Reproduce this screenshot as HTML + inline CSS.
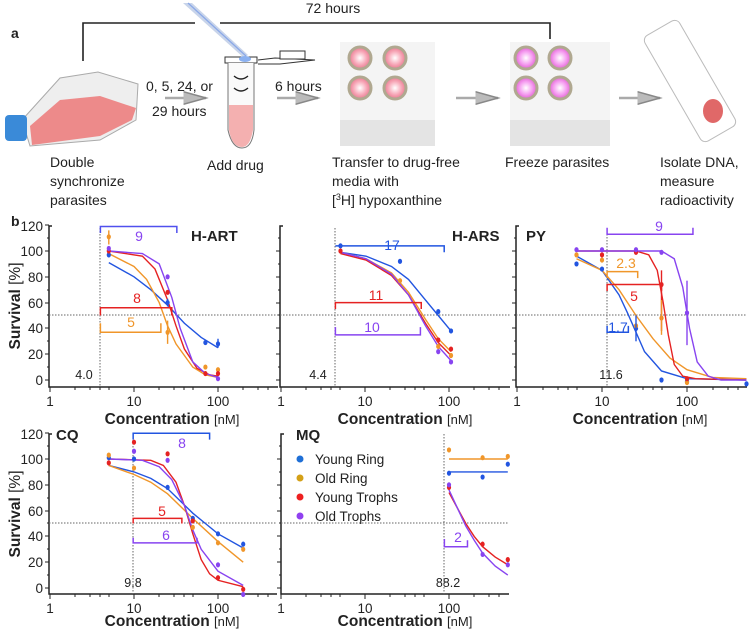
<!DOCTYPE html>
<html><head><meta charset="utf-8"><style>
body{margin:0;background:#fff;width:750px;height:630px;overflow:hidden}
svg{display:block;font-family:"Liberation Sans",sans-serif}
.c{fill:none;stroke-width:1.4;vector-effect:non-scaling-stroke}
.ax{stroke:#222;stroke-width:1.6;fill:none}
.dt{stroke:#666;stroke-width:1;stroke-dasharray:1.5 1.5;vector-effect:non-scaling-stroke}
.br{fill:none;stroke-width:1.5;vector-effect:non-scaling-stroke}
.tl{font-size:14px;fill:#222}
.bl{font-size:14px;font-weight:bold;fill:#222}
</style></head><body>
<svg width="750" height="630" viewBox="0 0 750 630">
<defs>
<marker id="ah" markerWidth="10" markerHeight="8" refX="9" refY="4" orient="auto"><path d="M0,1.5 L9,4 L0,6.5" fill="#bbb" stroke="#888" stroke-width="0.6"/></marker>
<radialGradient id="pk"><stop offset="0" stop-color="#fff"/><stop offset="0.6" stop-color="#f7a8b8"/><stop offset="1" stop-color="#e87890"/></radialGradient>
<radialGradient id="mg"><stop offset="0" stop-color="#fff"/><stop offset="0.6" stop-color="#f59cf0"/><stop offset="1" stop-color="#e060d0"/></radialGradient>
</defs>
<!-- panel a -->
<text x="11" y="38" class="bl" font-size="15">a</text>
<polyline points="83,61 83,23 195,23" class="ax" stroke-width="1.5"/>
<polyline points="220,23 550,23 550,39" class="ax" stroke-width="1.5"/>
<text x="333" y="13" class="tl" text-anchor="middle" font-size="15">72 hours</text>
<!-- flask -->
<polygon points="22,120 60,78 98,72 138,84 136,120 100,140 30,146" fill="#eee" stroke="#aaa"/>
<polygon points="30,126 60,100 100,96 136,108 132,120 100,136 32,145" fill="#ec7878" opacity="0.85"/>
<rect x="5" y="115" width="22" height="26" rx="4" fill="#3a8ad8"/>
<!-- pipette -->
<polygon points="183,3 192,3 248,55 244,58" fill="#c8d4ea"/>
<line x1="188" y1="3" x2="246" y2="56" stroke="#8aa8e8" stroke-width="1.2"/>
<!-- tube -->
<rect x="225" y="57" width="32" height="6" fill="#fff" stroke="#333"/>
<ellipse cx="245" cy="59" rx="6" ry="3" fill="#8ab0f0"/>
<path d="M258,60 L275,58 L315,60 L280,64 L258,64" fill="#fff" stroke="#333"/>
<rect x="280" y="51" width="25" height="8" fill="#fff" stroke="#333"/>
<path d="M228,63 L228,130 Q232,148 242,148 Q252,148 254,130 L254,63" fill="#fafafa" stroke="#777"/>
<path d="M229,105 L253,105 L253,130 Q250,147 242,147 Q232,147 229,130Z" fill="#f4b0b0"/>
<path d="M234,76 Q241,82 248,76 M234,88 Q241,94 248,88" stroke="#222" fill="none" stroke-width="1.4"/>
<!-- plates -->
<g>
<rect x="340" y="42" width="95" height="104" fill="#f4f4f4"/>
<rect x="340" y="120" width="95" height="26" fill="#e4e4e4"/>
<circle cx="360" cy="58" r="11" fill="url(#pk)" stroke="#b0a890" stroke-width="3"/>
<circle cx="395" cy="58" r="11" fill="url(#pk)" stroke="#b0a890" stroke-width="3"/>
<circle cx="360" cy="88" r="11" fill="url(#pk)" stroke="#b0a890" stroke-width="3"/>
<circle cx="395" cy="88" r="11" fill="url(#pk)" stroke="#b0a890" stroke-width="3"/>
</g>
<g>
<rect x="510" y="42" width="100" height="104" fill="#f4f4f4"/>
<rect x="510" y="120" width="100" height="26" fill="#e4e4e4"/>
<circle cx="526" cy="58" r="11" fill="url(#mg)" stroke="#b0a890" stroke-width="3"/>
<circle cx="560" cy="58" r="11" fill="url(#mg)" stroke="#b0a890" stroke-width="3"/>
<circle cx="526" cy="88" r="11" fill="url(#mg)" stroke="#b0a890" stroke-width="3"/>
<circle cx="560" cy="88" r="11" fill="url(#mg)" stroke="#b0a890" stroke-width="3"/>
</g>
<rect x="670" y="20" width="40" height="122" rx="6" transform="rotate(-30 690 81)" fill="#fff" stroke="#bbb"/>
<ellipse cx="713" cy="111" rx="10" ry="12" fill="#e06868"/>
<!-- arrows -->
<line x1="165" y1="98" x2="206" y2="98" stroke="#aaa" stroke-width="2.5" marker-end="url(#ah)"/>
<line x1="277" y1="98" x2="318" y2="98" stroke="#aaa" stroke-width="2.5" marker-end="url(#ah)"/>
<line x1="456" y1="98" x2="498" y2="98" stroke="#aaa" stroke-width="2.5" marker-end="url(#ah)"/>
<line x1="619" y1="98" x2="660" y2="98" stroke="#aaa" stroke-width="2.5" marker-end="url(#ah)"/>
<g class="tl" font-size="14.5">
<text x="50" y="167">Double</text><text x="50" y="186">synchronize</text><text x="50" y="205">parasites</text>
<text x="146" y="91">0, 5, 24, or</text><text x="152" y="116">29 hours</text>
<text x="207" y="170">Add drug</text>
<text x="275" y="91">6 hours</text>
<text x="332" y="167">Transfer to drug-free</text><text x="332" y="186">media with</text><text x="332" y="205">[<tspan font-size="9" dy="-5">3</tspan><tspan dy="5">H] hypoxanthine</tspan></text>
<text x="505" y="167">Freeze parasites</text>
<text x="660" y="167">Isolate DNA,</text><text x="660" y="186">measure</text><text x="660" y="205">radioactivity</text>
</g>
<text x="11" y="226" class="bl" font-size="15">b</text>

<g class="tl" font-size="13">
<g stroke="#222" stroke-width="1.5" fill="none">
<path d="M52,226 H49 V387 H278"/>
<path d="M283,226 H280 V387 H510"/>
<path d="M519,226 H516 V387 H747"/>
<path d="M52,434 H49 V594 H277"/>
<path d="M284,434 H281 V594 H509"/>
</g>
<g stroke="#222" stroke-width="1">
<path d="M45,380h4M45,354h4M45,328h4M45,303h4M45,277h4M45,251h4M45,225h4M47,367h2M47,341h2M47,315h2M47,290h2M47,264h2M47,238h2"/>
<path d="M276,380h4M276,354h4M276,328h4M276,303h4M276,277h4M276,251h4M278,367h2M278,341h2M278,315h2M278,290h2M278,264h2M278,238h2"/>
<path d="M512,380h4M512,354h4M512,328h4M512,303h4M512,277h4M512,251h4M514,367h2M514,341h2M514,315h2M514,290h2M514,264h2M514,238h2"/>
<path d="M45,588h4M45,562h4M45,536h4M45,511h4M45,485h4M45,459h4M45,433h4M47,575h2M47,549h2M47,523h2M47,498h2M47,472h2M47,446h2"/>
<path d="M277,588h4M277,562h4M277,536h4M277,511h4M277,485h4M277,459h4M279,575h2M279,549h2M279,523h2M279,498h2M279,472h2M279,446h2"/>
<path d="M50,387v5M134,387v5M218,387v5M75,387v3M90,387v3M100,387v3M109,387v3M159,387v3M174,387v3M184,387v3M193,387v3M243,387v3M258,387v3M268,387v3"/>
<path d="M281,387v5M365,387v5M449,387v5M306,387v3M321,387v3M331,387v3M340,387v3M390,387v3M405,387v3M415,387v3M424,387v3M474,387v3M489,387v3M499,387v3"/>
<path d="M517,387v5M602,387v5M687,387v5M543,387v3M558,387v3M568,387v3M577,387v3M628,387v3M643,387v3M653,387v3M662,387v3M713,387v3M728,387v3M738,387v3"/>
<path d="M50,594v5M134,594v5M218,594v5M75,594v3M90,594v3M100,594v3M109,594v3M159,594v3M174,594v3M184,594v3M193,594v3M243,594v3M258,594v3M268,594v3"/>
<path d="M281,594v5M365,594v5M449,594v5M306,594v3M321,594v3M331,594v3M340,594v3M390,594v3M405,594v3M415,594v3M424,594v3M474,594v3M489,594v3M499,594v3"/>
</g>
<g text-anchor="end" font-size="13.5">
<text x="43" y="385">0</text><text x="43" y="359">20</text><text x="43" y="333">40</text><text x="43" y="308">60</text><text x="43" y="282">80</text><text x="43" y="256">100</text><text x="43" y="231">120</text>
<text x="43" y="593">0</text><text x="43" y="567">20</text><text x="43" y="541">40</text><text x="43" y="516">60</text><text x="43" y="490">80</text><text x="43" y="464">100</text><text x="43" y="439">120</text>
</g>
<g text-anchor="middle" font-size="13.5">
<text x="50" y="406">1</text><text x="134" y="406">10</text><text x="218" y="406">100</text>
<text x="281" y="406">1</text><text x="365" y="406">10</text><text x="449" y="406">100</text>
<text x="517" y="406">1</text><text x="602" y="406">10</text><text x="687" y="406">100</text>
<text x="50" y="613">1</text><text x="134" y="613">10</text><text x="218" y="613">100</text>
<text x="281" y="613">1</text><text x="365" y="613">10</text><text x="449" y="613">100</text>
</g>
<g font-size="15.5" text-anchor="middle">
<text x="172" y="424"><tspan font-weight="bold">Concentration</tspan> <tspan font-size="13">[nM]</tspan></text>
<text x="405" y="424"><tspan font-weight="bold">Concentration</tspan> <tspan font-size="13">[nM]</tspan></text>
<text x="640" y="424"><tspan font-weight="bold">Concentration</tspan> <tspan font-size="13">[nM]</tspan></text>
<text x="172" y="626"><tspan font-weight="bold">Concentration</tspan> <tspan font-size="13">[nM]</tspan></text>
<text x="405" y="626"><tspan font-weight="bold">Concentration</tspan> <tspan font-size="13">[nM]</tspan></text>
</g>
<text transform="translate(20,306) rotate(-90)" text-anchor="middle" font-size="15.5"><tspan font-weight="bold">Survival</tspan> [%]</text>
<text transform="translate(20,514) rotate(-90)" text-anchor="middle" font-size="15.5"><tspan font-weight="bold">Survival</tspan> [%]</text>
<g font-size="15" font-weight="bold">
<text x="191" y="241">H-ART</text><text x="452" y="241">H-ARS</text><text x="526" y="241">PY</text>
<text x="56" y="440">CQ</text><text x="296" y="440">MQ</text>
</g>
<g font-size="12.5">
<text x="84" y="379" text-anchor="middle">4.0</text><text x="318" y="379" text-anchor="middle">4.4</text><text x="611" y="379" text-anchor="middle">11.6</text>
<text x="133" y="587" text-anchor="middle">9.8</text><text x="448" y="587" text-anchor="middle">88.2</text>
</g>
</g>
<!-- dotted lines -->
<g>
<line x1="49" y1="315" x2="278" y2="315" class="dt"/><line x1="280" y1="315" x2="510" y2="315" class="dt"/><line x1="516" y1="315" x2="747" y2="315" class="dt"/>
<line x1="49" y1="523" x2="277" y2="523" class="dt"/><line x1="281" y1="523" x2="509" y2="523" class="dt"/>
<line x1="100" y1="228" x2="100" y2="387" class="dt"/>
<line x1="335" y1="228" x2="335" y2="387" class="dt"/>
<line x1="607" y1="228" x2="607" y2="387" class="dt"/>
<line x1="133" y1="434" x2="133" y2="594" class="dt"/>
<line x1="444" y1="434" x2="444" y2="594" class="dt"/>
</g>

<!-- Plot1 H-ART -->
<g transform="translate(50,380) scale(84,-1.29)">
<polyline class="c" stroke="#2255e0" points="0.7,91 1,80 1.2,70 1.4,58 1.6,44 1.8,33 2,25"/>
<polyline class="c" stroke="#f0962a" points="0.7,98 1,88 1.15,78 1.3,60 1.4,42 1.5,28 1.7,10 1.85,4 2,2"/>
<polyline class="c" stroke="#e52222" points="0.7,100 1.1,96 1.25,86 1.4,62 1.5,42 1.6,24 1.75,9 1.9,4 2,3"/>
<polyline class="c" stroke="#8844f0" points="0.7,100 1.1,98 1.3,90 1.45,64 1.55,40 1.7,14 1.85,5 2,2"/>
<polyline class="br" stroke="#5050ee" points="0.6,114 0.6,119 1.51,119 1.51,114"/>
<polyline class="br" stroke="#e52222" points="0.6,50 0.6,56 1.45,56 1.45,50"/>
<polyline class="br" stroke="#f0962a" points="0.6,44 0.6,37 1.32,37 1.32,44"/>
<g fill="#2255e0"><ellipse cx="0.7" cy="97" rx="0.025" ry="2"/><ellipse cx="1.4" cy="60" rx="0.025" ry="2"/><ellipse cx="1.85" cy="29" rx="0.025" ry="2"/><ellipse cx="2" cy="28" rx="0.025" ry="2"/></g>
<g fill="#f0962a"><ellipse cx="0.7" cy="111" rx="0.025" ry="2"/><ellipse cx="1.4" cy="37" rx="0.025" ry="2"/><ellipse cx="1.85" cy="10" rx="0.025" ry="2"/><ellipse cx="2" cy="8" rx="0.025" ry="2"/></g>
<g fill="#e52222"><ellipse cx="0.7" cy="100" rx="0.025" ry="2"/><ellipse cx="1.4" cy="68" rx="0.025" ry="2"/><ellipse cx="1.85" cy="5" rx="0.025" ry="2"/><ellipse cx="2" cy="5" rx="0.025" ry="2"/></g>
<g fill="#8844f0"><ellipse cx="0.7" cy="102" rx="0.025" ry="2"/><ellipse cx="1.4" cy="80" rx="0.025" ry="2"/><ellipse cx="2" cy="1" rx="0.025" ry="2"/></g>
<path class="c" stroke="#f0962a" d="M1.4,28V46M0.7,105V116"/>
<path class="c" stroke="#2255e0" d="M2,25V32M1.4,57V63"/>
</g>
<text x="137" y="303" fill="#e52222" font-size="14" text-anchor="middle">8</text>
<text x="139" y="241" fill="#8844f0" font-size="14" text-anchor="middle">9</text>
<text x="131" y="327" fill="#f0962a" font-size="14" text-anchor="middle">5</text>

<!-- Plot2 H-ARS -->
<g transform="translate(281,380) scale(85,-1.29)">
<polyline class="c" stroke="#2255e0" points="0.7,99 1,96 1.3,88 1.5,78 1.7,62 1.85,50 2,38"/>
<polyline class="c" stroke="#f0962a" points="0.7,99 1,94 1.3,83 1.5,68 1.7,47 1.85,32 2,22"/>
<polyline class="c" stroke="#e52222" points="0.7,98 1,93 1.3,81 1.5,66 1.7,44 1.85,29 2,19"/>
<polyline class="c" stroke="#8844f0" points="0.7,99 1,94 1.3,82 1.5,66 1.7,42 1.85,26 2,15"/>
<polyline class="br" stroke="#2255e0" points="0.64,104 1.92,104 1.92,99"/>
<polyline class="br" stroke="#e52222" points="0.64,55 0.64,60 1.65,60 1.65,55"/>
<polyline class="br" stroke="#8844f0" points="0.64,41 0.64,35 1.64,35 1.64,41"/>
<g fill="#2255e0"><ellipse cx="0.7" cy="104" rx="0.025" ry="2"/><ellipse cx="1.4" cy="92" rx="0.025" ry="2"/><ellipse cx="1.85" cy="53" rx="0.025" ry="2"/><ellipse cx="2" cy="38" rx="0.025" ry="2"/></g>
<g fill="#f0962a"><ellipse cx="1.4" cy="77" rx="0.025" ry="2"/><ellipse cx="1.85" cy="26" rx="0.025" ry="2"/><ellipse cx="2" cy="19" rx="0.025" ry="2"/></g>
<g fill="#e52222"><ellipse cx="0.7" cy="100" rx="0.025" ry="2"/><ellipse cx="1.85" cy="31" rx="0.025" ry="2"/><ellipse cx="2" cy="24" rx="0.025" ry="2"/></g>
<g fill="#8844f0"><ellipse cx="1.85" cy="22" rx="0.025" ry="2"/><ellipse cx="2" cy="14" rx="0.025" ry="2"/></g>
</g>
<text x="376" y="300" fill="#e52222" font-size="14" text-anchor="middle">11</text>
<text x="392" y="250" fill="#2255e0" font-size="14" text-anchor="middle">17</text>
<text x="372" y="332" fill="#8844f0" font-size="14" text-anchor="middle">10</text>

<!-- Plot3 PY -->
<g transform="translate(517,380) scale(85,-1.29)">
<polyline class="c" stroke="#2255e0" points="0.7,96 1,85 1.2,66 1.3,52 1.4,37 1.5,22 1.7,7 2,1 2.7,0"/>
<polyline class="c" stroke="#f0962a" points="0.7,94 1,85 1.2,70 1.4,50 1.6,32 1.8,17 2,8 2.3,2 2.7,1"/>
<polyline class="c" stroke="#e52222" points="0.7,100 1.4,100 1.55,97 1.65,85 1.72,60 1.78,35 1.85,12 1.95,3 2.1,1 2.7,0"/>
<polyline class="c" stroke="#8844f0" points="0.7,100 1.7,100 1.85,94 1.95,72 2.03,40 2.12,14 2.25,3 2.4,0 2.7,0"/>
<polyline class="br" stroke="#8844f0" points="1.06,118 1.06,113 2.07,113 2.07,118"/>
<polyline class="br" stroke="#f0962a" points="1.06,79 1.06,84 1.42,84 1.42,79"/>
<polyline class="br" stroke="#e52222" points="1.06,69 1.06,74 1.7,74 1.7,69"/>
<polyline class="br" stroke="#2255e0" points="1.06,42 1.06,37 1.31,37 1.31,42"/>
<g fill="#2255e0"><ellipse cx="0.7" cy="90" rx="0.025" ry="2"/><ellipse cx="1" cy="86" rx="0.025" ry="2"/><ellipse cx="1.4" cy="40" rx="0.025" ry="2"/><ellipse cx="1.7" cy="0" rx="0.025" ry="2"/><ellipse cx="2" cy="-1" rx="0.025" ry="2"/><ellipse cx="2.7" cy="-3" rx="0.025" ry="2"/></g>
<g fill="#f0962a"><ellipse cx="0.7" cy="97" rx="0.025" ry="2"/><ellipse cx="1" cy="93" rx="0.025" ry="2"/><ellipse cx="1.4" cy="42" rx="0.025" ry="2"/><ellipse cx="1.7" cy="48" rx="0.025" ry="2"/><ellipse cx="2" cy="-2" rx="0.025" ry="2"/></g>
<g fill="#e52222"><ellipse cx="1" cy="97" rx="0.025" ry="2"/><ellipse cx="1.4" cy="99" rx="0.025" ry="2"/><ellipse cx="1.7" cy="74" rx="0.025" ry="2"/><ellipse cx="2" cy="1" rx="0.025" ry="2"/></g>
<g fill="#8844f0"><ellipse cx="0.7" cy="101" rx="0.025" ry="2"/><ellipse cx="1" cy="101" rx="0.025" ry="2"/><ellipse cx="1.4" cy="101" rx="0.025" ry="2"/><ellipse cx="1.7" cy="99" rx="0.025" ry="2"/><ellipse cx="2" cy="52" rx="0.025" ry="2"/></g>
<path class="c" stroke="#8844f0" d="M2,27V77"/><path class="c" stroke="#e52222" d="M1.7,38V85"/><path class="c" stroke="#f0962a" d="M1.7,35V62"/><path class="c" stroke="#2255e0" d="M1.4,30V50"/>
</g>
<text x="659" y="231" fill="#8844f0" font-size="14" text-anchor="middle">9</text>
<text x="626" y="268" fill="#f0962a" font-size="14" text-anchor="middle">2.3</text>
<text x="634" y="301" fill="#e52222" font-size="14" text-anchor="middle">5</text>
<text x="618" y="332" fill="#2255e0" font-size="14" text-anchor="middle">1.7</text>

<!-- CQ -->
<g transform="translate(50,588) scale(84,-1.29)">
<polyline class="c" stroke="#2255e0" points="0.7,95 1,90 1.2,85 1.4,77 1.7,58 1.85,50 2,42 2.3,31"/>
<polyline class="c" stroke="#f0962a" points="0.7,95 1,88 1.2,82 1.4,73 1.7,54 1.85,45 2,36 2.3,20"/>
<polyline class="c" stroke="#e52222" points="0.7,100 1.2,99 1.35,95 1.5,82 1.6,64 1.7,42 1.8,22 1.9,11 2,6 2.3,1"/>
<polyline class="c" stroke="#8844f0" points="0.7,100 1.1,99 1.3,94 1.45,84 1.6,64 1.7,45 1.8,30 2,13 2.3,2"/>
<polyline class="br" stroke="#2255e0" points="0.99,115 0.99,120 1.9,120 1.9,115"/>
<polyline class="br" stroke="#e52222" points="0.99,50 0.99,54 1.57,54 1.57,50"/>
<polyline class="br" stroke="#8844f0" points="0.99,39 0.99,35 1.75,35 1.75,39"/>
<g fill="#2255e0"><ellipse cx="0.7" cy="101" rx="0.025" ry="2"/><ellipse cx="1" cy="100" rx="0.025" ry="2"/><ellipse cx="1.4" cy="78" rx="0.025" ry="2"/><ellipse cx="1.7" cy="54" rx="0.025" ry="2"/><ellipse cx="2" cy="42" rx="0.025" ry="2"/><ellipse cx="2.3" cy="34" rx="0.025" ry="2"/></g>
<g fill="#f0962a"><ellipse cx="0.7" cy="103" rx="0.025" ry="2"/><ellipse cx="1" cy="93" rx="0.025" ry="2"/><ellipse cx="1.7" cy="47" rx="0.025" ry="2"/><ellipse cx="2" cy="35" rx="0.025" ry="2"/><ellipse cx="2.3" cy="30" rx="0.025" ry="2"/></g>
<g fill="#e52222"><ellipse cx="0.7" cy="97" rx="0.025" ry="2"/><ellipse cx="1" cy="113" rx="0.025" ry="2"/><ellipse cx="1.4" cy="104" rx="0.025" ry="2"/><ellipse cx="1.7" cy="52" rx="0.025" ry="2"/><ellipse cx="2" cy="8" rx="0.025" ry="2"/><ellipse cx="2.3" cy="-1" rx="0.025" ry="2"/></g>
<g fill="#8844f0"><ellipse cx="1" cy="106" rx="0.025" ry="2"/><ellipse cx="1.4" cy="99" rx="0.025" ry="2"/><ellipse cx="2" cy="18" rx="0.025" ry="2"/><ellipse cx="2.3" cy="-5" rx="0.025" ry="2"/></g>
</g>
<text x="182" y="448" fill="#8844f0" font-size="14" text-anchor="middle">8</text>
<text x="162" y="516" fill="#e52222" font-size="14" text-anchor="middle">5</text>
<text x="166" y="540" fill="#8844f0" font-size="14" text-anchor="middle">6</text>

<!-- MQ -->
<g transform="translate(281,588) scale(84,-1.29)">
<polyline class="c" stroke="#f0962a" points="2,100 2.7,100"/>
<polyline class="c" stroke="#2255e0" points="2,90 2.7,90"/>
<polyline class="c" stroke="#e52222" points="2,74 2.1,62 2.2,50 2.3,40 2.4,32 2.55,24 2.7,18"/>
<polyline class="c" stroke="#8844f0" points="2,76 2.1,62 2.2,48 2.3,37 2.4,27 2.55,17 2.7,10"/>
<polyline class="br" stroke="#8844f0" points="1.945,38 1.945,32 2.22,32 2.22,37"/>
<g fill="#2255e0"><ellipse cx="2" cy="89" rx="0.025" ry="2"/><ellipse cx="2.4" cy="86" rx="0.025" ry="2"/><ellipse cx="2.7" cy="96" rx="0.025" ry="2"/></g>
<g fill="#f0962a"><ellipse cx="2" cy="107" rx="0.025" ry="2"/><ellipse cx="2.4" cy="101" rx="0.025" ry="2"/><ellipse cx="2.7" cy="102" rx="0.025" ry="2"/></g>
<g fill="#e52222"><ellipse cx="2" cy="78" rx="0.025" ry="2"/><ellipse cx="2.4" cy="34" rx="0.025" ry="2"/><ellipse cx="2.7" cy="22" rx="0.025" ry="2"/></g>
<g fill="#8844f0"><ellipse cx="2" cy="80" rx="0.025" ry="2"/><ellipse cx="2.4" cy="26" rx="0.025" ry="2"/><ellipse cx="2.7" cy="18" rx="0.025" ry="2"/></g>
</g>
<text x="458" y="542" fill="#8844f0" font-size="14" text-anchor="middle">2</text>
<g font-size="13.5" fill="#222">
<circle cx="300" cy="459" r="3.5" fill="#1f6fd6"/><text x="315" y="464">Young Ring</text>
<circle cx="300" cy="478" r="3.5" fill="#d4a017"/><text x="315" y="483">Old Ring</text>
<circle cx="300" cy="497" r="3.5" fill="#ee2020"/><text x="315" y="502">Young Trophs</text>
<circle cx="300" cy="516" r="3.5" fill="#9040f0"/><text x="315" y="521">Old Trophs</text>
</g>
</svg>
</body></html>
